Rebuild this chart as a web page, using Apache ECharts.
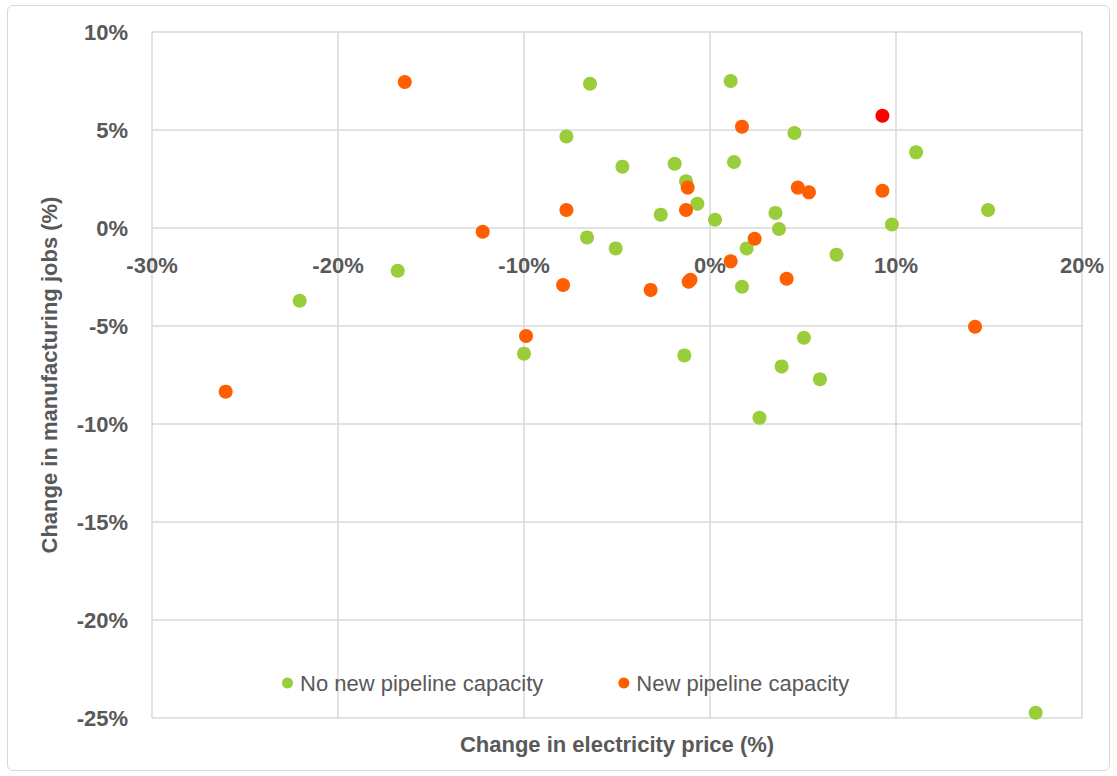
<!DOCTYPE html>
<html>
<head>
<meta charset="utf-8">
<script src="https://cdn.jsdelivr.net/npm/echarts@6/dist/echarts.min.js"></script>
<style>
  html, body { margin: 0; padding: 0; background: #ffffff; }
  #frame { position: absolute; left: 7px; top: 5px; width: 1101px; height: 764px; border: 1px solid #d9d9d9; border-radius: 6px; }
  #chart { position: absolute; left: 0; top: 0; width: 1117px; height: 776px; }
</style>
</head>
<body>
<div id="frame"></div>
<div id="chart"></div>
<script>
// Change in electricity price (%) , change in manufacturing jobs (%)
const seriesNames = ['No new pipeline capacity', 'New pipeline capacity'];
const xTicks = [-30, -20, -10, 0, 10, 20];
const yTicks = [-25, -20, -15, -10, -5, 0, 5, 10];

const noNewPipeline = [
  [-22.06, -3.71], [-16.79, -2.18], [-10.00, -6.41], [-7.72, 4.67], [-6.45, 7.36],
  [-6.61, -0.48], [-5.07, -1.04], [-4.71, 3.13], [-2.65, 0.68], [-1.90, 3.28],
  [-1.29, 2.38], [-0.68, 1.24], [0.27, 0.42], [1.11, 7.50], [1.29, 3.37],
  [4.54, 4.85], [3.52, 0.77], [3.71, -0.05], [1.97, -1.04], [1.72, -3.00],
  [6.80, -1.36], [9.78, 0.18], [11.08, 3.86], [14.95, 0.92], [-1.38, -6.50],
  [5.05, -5.60], [3.85, -7.06], [5.91, -7.72], [2.66, -9.68], [17.51, -24.73]
];

const newPipeline = [
  [-26.04, -8.35], [-16.41, 7.45], [-12.22, -0.19], [-9.89, -5.51], [-7.72, 0.92],
  [-7.90, -2.91], [-3.19, -3.16], [-1.20, 2.06], [-1.29, 0.92], [-1.15, -2.74],
  [-1.05, -2.64], [1.11, -1.70], [1.72, 5.17], [2.40, -0.55], [4.12, -2.59],
  [4.72, 2.06], [5.32, 1.82], [9.27, 1.90], [14.25, -5.04]
];

const highlighted = [[9.27, 5.73]];

const gray = '#595959';
const gridColor = '#d9d9d9';
const fontFamily = '"Liberation Sans", Arial, sans-serif';

const gridLeft = 152, gridRight = 35, gridTop = 32, gridBottom = 58;
const chartWidth = 1117, chartHeight = 776;
const plotHeight = chartHeight - gridTop - gridBottom;
// move the x axis (labels) up to the y = 0 line
const zeroOffset = -plotHeight * (0 - yTicks[0]) / (yTicks[yTicks.length - 1] - yTicks[0]);
const plotCenterX = gridLeft + (chartWidth - gridLeft - gridRight) / 2;

const chart = echarts.init(document.getElementById('chart'), null, { renderer: 'svg' });
chart.setOption({
  animation: false,
  backgroundColor: 'transparent',
  textStyle: { fontFamily: fontFamily },
  grid: { left: gridLeft, right: gridRight, top: gridTop, bottom: gridBottom, containLabel: false },
  legend: {
    data: seriesNames,
    left: 277,
    top: 667,
    icon: 'circle',
    itemWidth: 11,
    itemHeight: 11,
    itemGap: 75,
    textStyle: { color: gray, fontSize: 22, fontFamily: fontFamily, padding: [0, 0, 0, 2] }
  },
  xAxis: {
    type: 'value',
    min: xTicks[0],
    max: xTicks[xTicks.length - 1],
    interval: 10,
    offset: zeroOffset,
    axisLine: { show: false, onZero: false },
    axisTick: { show: false },
    axisLabel: { color: gray, fontSize: 22, fontWeight: 'bold', margin: 26, formatter: v => v + '%' },
    splitLine: { show: true, lineStyle: { color: gridColor, width: 1.5 } }
  },
  yAxis: {
    type: 'value',
    min: yTicks[0],
    max: yTicks[yTicks.length - 1],
    interval: 5,
    name: 'Change in manufacturing jobs (%)',
    nameLocation: 'middle',
    nameGap: 92,
    nameTextStyle: { color: gray, fontSize: 22, fontWeight: 'bold' },
    axisLine: { show: false, onZero: false },
    axisTick: { show: false },
    axisLabel: { color: gray, fontSize: 22, fontWeight: 'bold', margin: 24, formatter: v => v + '%' },
    splitLine: { show: true, lineStyle: { color: gridColor, width: 1.5 } }
  },
  graphic: [{
    type: 'text',
    x: plotCenterX,
    y: 744,
    style: {
      text: 'Change in electricity price (%)', fill: gray,
      font: 'bold 22px ' + fontFamily, align: 'center', verticalAlign: 'middle'
    }
  }],
  series: [
    {
      name: seriesNames[0], type: 'scatter', symbolSize: 14,
      itemStyle: { color: '#9ACD3A', opacity: 1 },
      data: noNewPipeline
    },
    {
      name: seriesNames[1], type: 'scatter', symbolSize: 14,
      itemStyle: { color: '#FF5F00', opacity: 1 },
      data: newPipeline
    },
    {
      name: 'Highlighted', type: 'scatter', symbolSize: 14,
      itemStyle: { color: '#FF0000', opacity: 1 },
      data: highlighted
    }
  ]
});
</script>
</body>
</html>
